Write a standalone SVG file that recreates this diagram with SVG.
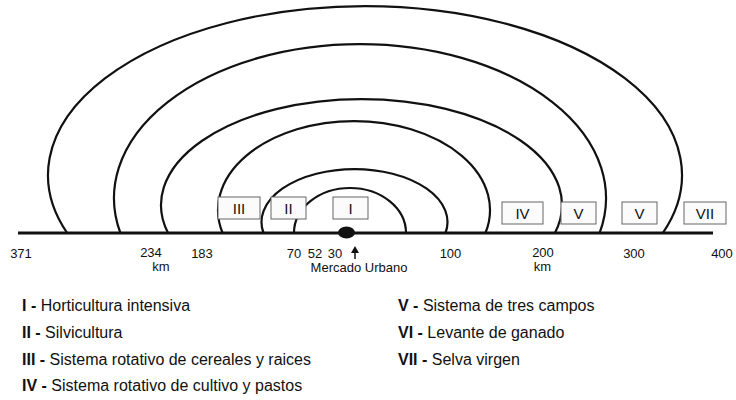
<svg xmlns="http://www.w3.org/2000/svg" width="736" height="400" viewBox="0 0 736 400">
<style>
.arc{fill:none;stroke:#111;stroke-width:2.2}
.box{fill:#fbfbfb;stroke:#666;stroke-width:1}
.bt{font-family:"Liberation Sans",Arial,sans-serif;font-size:15px;fill:#111;text-anchor:middle}
.num{font-family:"Liberation Sans",Arial,sans-serif;font-size:13px;fill:#111;text-anchor:middle}
.leg{font-family:"Liberation Sans",Arial,sans-serif;font-size:16px;fill:#111}
.b{font-weight:bold}
</style>
<rect width="736" height="400" fill="#fff"/>
<g id="arcs">
<path class="arc" d="M67.2 233 A317 169 0 1 1 662.8 233"/>
<path class="arc" d="M120.4 233 A246 154 0 1 1 599.6 233"/>
<path class="arc" d="M168.1 233 A200.5 106 0 1 1 554.9 233"/>
<path class="arc" d="M222.6 233 A136 89 0 1 1 485.4 233"/>
<path class="arc" d="M263.5 233 A93 53 0 1 1 445.5 233"/>
<path class="arc" d="M294 233 A56 45 0 0 1 406 233"/>
</g>
<g id="axis">
<line x1="18" y1="233" x2="713" y2="233" stroke="#111" stroke-width="3"/>
<ellipse cx="346.5" cy="232.5" rx="8.5" ry="6" fill="#111"/>
<line x1="355" y1="259" x2="355" y2="251" stroke="#111" stroke-width="1.5"/>
<polygon points="355,246 351,253 359,253" fill="#111"/>
</g>
<g id="zone-III"><rect class="box" x="218" y="197" width="42" height="22"/><text class="bt" x="239" y="214">III</text></g>
<g id="zone-II"><rect class="box" x="271" y="197" width="35" height="22"/><text class="bt" x="288.5" y="214">II</text></g>
<g id="zone-I"><rect class="box" x="333" y="197" width="35" height="22"/><text class="bt" x="350.5" y="214">I</text></g>
<g id="zone-IV"><rect class="box" x="502" y="202" width="41" height="22"/><text class="bt" x="522.5" y="219">IV</text></g>
<g id="zone-V1"><rect class="box" x="561" y="202" width="35" height="22"/><text class="bt" x="578.5" y="219">V</text></g>
<g id="zone-V2"><rect class="box" x="622" y="202" width="35" height="22"/><text class="bt" x="639.5" y="219">V</text></g>
<g id="zone-VII"><rect class="box" x="684" y="202" width="42" height="22"/><text class="bt" x="705" y="219">VII</text></g>
<g id="scale">
<text class="num" x="21" y="258">371</text>
<text class="num" x="151" y="257">234</text>
<text class="num" x="161" y="271">km</text>
<text class="num" x="202" y="258">183</text>
<text class="num" x="294" y="258">70</text>
<text class="num" x="315" y="258">52</text>
<text class="num" x="335" y="258">30</text>
<text class="num" x="359" y="272">Mercado Urbano</text>
<text class="num" x="450.5" y="258">100</text>
<text class="num" x="543" y="257">200</text>
<text class="num" x="542.5" y="271">km</text>
<text class="num" x="634" y="258">300</text>
<text class="num" x="722" y="258">400</text>
</g>
<g id="legend">
<text class="leg" x="22" y="311"><tspan class="b">I - </tspan>Horticultura intensiva</text>
<text class="leg" x="22" y="338"><tspan class="b">II - </tspan>Silvicultura</text>
<text class="leg" x="22" y="365"><tspan class="b">III - </tspan>Sistema rotativo de cereales y raices</text>
<text class="leg" x="22" y="391"><tspan class="b">IV - </tspan>Sistema rotativo de cultivo y pastos</text>
<text class="leg" x="398" y="311"><tspan class="b">V - </tspan>Sistema de tres campos</text>
<text class="leg" x="398" y="338"><tspan class="b">VI - </tspan>Levante de ganado</text>
<text class="leg" x="398" y="365"><tspan class="b">VII - </tspan>Selva virgen</text>
</g>
</svg>
